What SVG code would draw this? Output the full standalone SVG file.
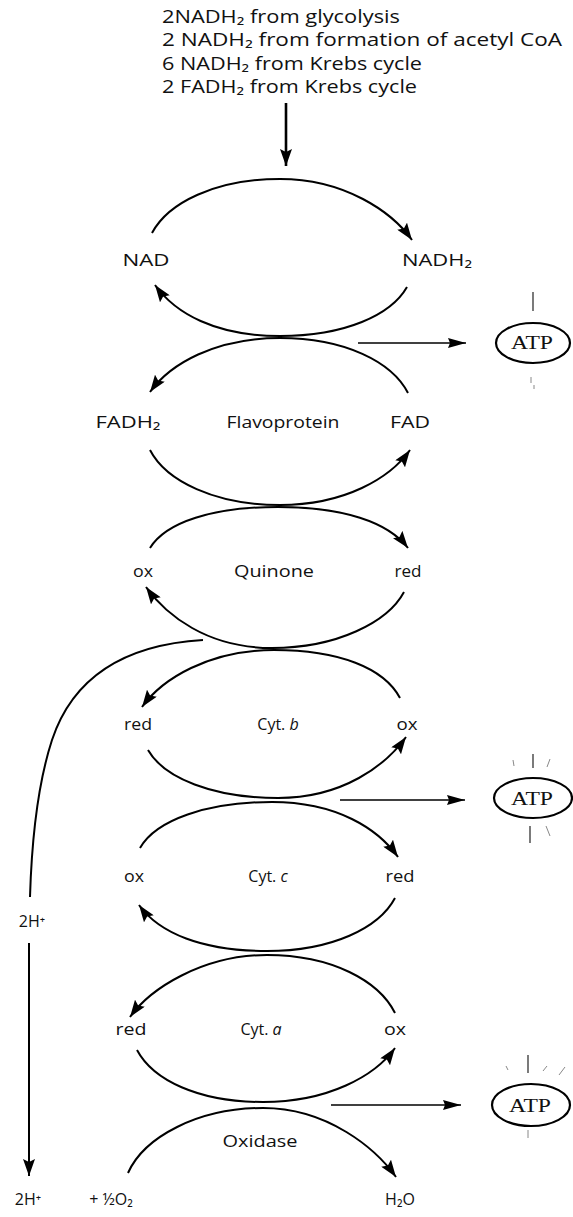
<svg xmlns="http://www.w3.org/2000/svg" width="573" height="1217" viewBox="0 0 573 1217">
<defs>
<style>
text{font-family:"Open Sans","DejaVu Sans",sans-serif;fill:#111;}
.top{font-size:18px;}
.lbl{font-size:16px;text-anchor:middle;}
.atp{font-size:19px;text-anchor:middle;font-family:"Liberation Serif","DejaVu Serif",serif;}
.arc{fill:none;stroke:#000;stroke-width:2;}
.hl{fill:none;stroke:#000;stroke-width:1.6;}
.oval{fill:#fff;stroke:#000;stroke-width:2.2;}
.tick{stroke:#333;stroke-width:1.3;}
.tick2{stroke:#888;stroke-width:1;}
</style>
<marker id="ah" markerWidth="18" markerHeight="12" refX="17" refY="6" orient="auto" markerUnits="userSpaceOnUse"><path d="M0,0 L17,6 L0,12 L3,6 z" fill="#000"/></marker>
<marker id="ahs" markerWidth="18" markerHeight="10" refX="18" refY="5" orient="auto" markerUnits="userSpaceOnUse"><path d="M0,0 L18,5 L0,10 L2,5 z" fill="#000"/></marker>
</defs>
<rect width="573" height="1217" fill="#fff"/>

<g id="sources">
<text class="top" x="162" y="23" textLength="238" lengthAdjust="spacingAndGlyphs">2NADH₂ from glycolysis</text>
<text class="top" x="162" y="46" textLength="400" lengthAdjust="spacingAndGlyphs">2 NADH₂ from formation of acetyl CoA</text>
<text class="top" x="162" y="70" textLength="260" lengthAdjust="spacingAndGlyphs">6 NADH₂ from Krebs cycle</text>
<text class="top" x="162" y="93" textLength="255" lengthAdjust="spacingAndGlyphs">2 FADH₂ from Krebs cycle</text>
</g>

<g id="connectors">
<line x1="286" y1="103" x2="286" y2="166" stroke="#000" stroke-width="2.6" marker-end="url(#ah)"/>
<path class="arc" marker-end="url(#ah)" d="M152,233 C168,203 215,179 280,179 C345,179 392,212 412,240"/>
<path class="arc" marker-end="url(#ah)" d="M407,287 C391,315 345,336 280,336 C215,336 175,313 155,285"/>
<path class="arc" marker-end="url(#ah)" d="M408,393 C392,362 345,338 280,338 C215,338 170,364 150,392"/>
<path class="arc" marker-end="url(#ah)" d="M150,450 C166,481 215,505 280,505 C345,505 390,478 410,450"/>
<path class="arc" marker-end="url(#ah)" d="M150,548 C166,522 213,507 278,507 C343,507 388,522 408,548"/>
<path class="arc" marker-end="url(#ah)" d="M404,592 C388,622 337,648 272,648 C207,648 166,615 146,587"/>
<path class="arc" marker-end="url(#ah)" d="M400,698 C384,668 339,650 274,650 C209,650 162,679 142,707"/>
<path class="arc" marker-end="url(#ah)" d="M148,750 C164,778 213,798 278,798 C343,798 386,765 406,737"/>
<path class="arc" marker-end="url(#ah)" d="M140,848 C156,820 207,802 272,802 C337,802 378,829 398,857"/>
<path class="arc" marker-end="url(#ah)" d="M395,898 C379,928 332,951 267,951 C202,951 159,933 139,905"/>
<path class="arc" marker-end="url(#ah)" d="M395,1013 C379,981 332,955 267,955 C202,955 150,989 130,1017"/>
<path class="arc" marker-end="url(#ah)" d="M137,1050 C153,1080 198,1102 263,1102 C328,1102 375,1076 395,1048"/>
<path class="arc" marker-end="url(#ah)" d="M128,1173 C144,1137 198,1108 263,1108 C328,1108 376,1149 396,1177"/>
<line class="hl" x1="358" y1="343" x2="466" y2="343" marker-end="url(#ahs)"/>
<line class="hl" x1="340" y1="800" x2="465" y2="800" marker-end="url(#ahs)"/>
<line class="hl" x1="331" y1="1105" x2="461" y2="1105" marker-end="url(#ahs)"/>
<path class="arc" d="M203,640 C120,645 72,680 52,740 C39,780 32,830 30,897"/>
<line x1="29" y1="943" x2="29" y2="1176" stroke="#000" stroke-width="2" marker-end="url(#ah)"/>
</g>

<g id="nad">
<text class="lbl" x="146" y="266" textLength="47" lengthAdjust="spacingAndGlyphs">NAD</text>
<text class="lbl" x="437" y="266" textLength="70" lengthAdjust="spacingAndGlyphs">NADH₂</text>
</g>
<g id="flavoprotein">
<text class="lbl" x="128" y="428" textLength="65" lengthAdjust="spacingAndGlyphs">FADH₂</text>
<text class="lbl" x="283" y="428" textLength="113" lengthAdjust="spacingAndGlyphs">Flavoprotein</text>
<text class="lbl" x="410" y="428" textLength="40" lengthAdjust="spacingAndGlyphs">FAD</text>
</g>
<g id="quinone">
<text class="lbl" x="143" y="577" textLength="20" lengthAdjust="spacingAndGlyphs">ox</text>
<text class="lbl" x="274" y="577" textLength="80" lengthAdjust="spacingAndGlyphs">Quinone</text>
<text class="lbl" x="408" y="577" textLength="27" lengthAdjust="spacingAndGlyphs">red</text>
</g>
<g id="cyt-b">
<text class="lbl" x="138" y="730" textLength="28" lengthAdjust="spacingAndGlyphs">red</text>
<text class="lbl" x="278" y="730">Cyt. <tspan font-style="italic">b</tspan></text>
<text class="lbl" x="407" y="730" textLength="21" lengthAdjust="spacingAndGlyphs">ox</text>
</g>
<g id="cyt-c">
<text class="lbl" x="134" y="882" textLength="20" lengthAdjust="spacingAndGlyphs">ox</text>
<text class="lbl" x="268" y="882">Cyt. <tspan font-style="italic">c</tspan></text>
<text class="lbl" x="400" y="882" textLength="29" lengthAdjust="spacingAndGlyphs">red</text>
</g>
<g id="cyt-a">
<text class="lbl" x="131" y="1035" textLength="31" lengthAdjust="spacingAndGlyphs">red</text>
<text class="lbl" x="261" y="1035">Cyt. <tspan font-style="italic">a</tspan></text>
<text class="lbl" x="395" y="1035" textLength="22" lengthAdjust="spacingAndGlyphs">ox</text>
</g>
<g id="oxidase">
<text class="lbl" x="260" y="1147" textLength="75" lengthAdjust="spacingAndGlyphs">Oxidase</text>
<text class="lbl" x="28" y="1205">2H⁺</text>
<text class="lbl" x="111" y="1205">+ ½O₂</text>
<text class="lbl" x="400" y="1205">H₂O</text>
</g>
<g id="proton-label">
<text class="lbl" x="32" y="927">2H⁺</text>
</g>

<g id="atp-1">
<line class="tick" x1="533" y1="292" x2="533" y2="311"/>
<line class="tick2" x1="531" y1="377" x2="531" y2="383"/>
<line class="tick2" x1="534" y1="385" x2="534" y2="389"/>
<ellipse class="oval" cx="533" cy="343" rx="37" ry="20"/>
<text class="atp" x="532" y="349" textLength="42" lengthAdjust="spacingAndGlyphs">ATP</text>
</g>
<g id="atp-2">
<line class="tick" x1="533" y1="754" x2="533" y2="768"/>
<line class="tick2" x1="513" y1="760" x2="514" y2="766"/>
<line class="tick2" x1="550" y1="759" x2="547" y2="767"/>
<line class="tick" x1="530" y1="826" x2="530" y2="843"/>
<line class="tick2" x1="546" y1="826" x2="550" y2="836"/>
<ellipse class="oval" cx="533" cy="798" rx="39" ry="20"/>
<text class="atp" x="532" y="805" textLength="42" lengthAdjust="spacingAndGlyphs">ATP</text>
</g>
<g id="atp-3">
<line class="tick" x1="528" y1="1055" x2="528" y2="1073"/>
<line class="tick2" x1="506" y1="1066" x2="508" y2="1070"/>
<line class="tick2" x1="547" y1="1066" x2="543" y2="1071"/>
<line class="tick2" x1="565" y1="1067" x2="559" y2="1075"/>
<line class="tick2" x1="528" y1="1130" x2="528" y2="1138"/>
<ellipse class="oval" cx="531" cy="1105" rx="39" ry="21"/>
<text class="atp" x="530" y="1112" textLength="42" lengthAdjust="spacingAndGlyphs">ATP</text>
</g>
</svg>
